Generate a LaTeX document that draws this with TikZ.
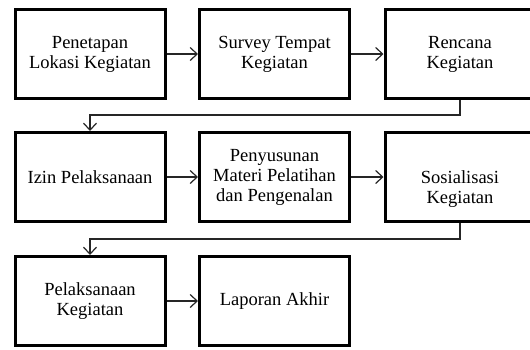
\documentclass[tikz,border=0pt]{standalone}
\usepackage{fontspec}
\setmainfont{Liberation Serif}
\usetikzlibrary{arrows.meta}
\begin{document}
\begin{tikzpicture}[x=1pt,y=-1pt,
  box/.style={draw=black, line width=3pt, minimum width=150pt, minimum height=89pt,
    inner sep=0pt, align=center, font=\fontsize{18.5}{20}\selectfont},
  txt/.style={inner sep=0pt, align=center, font=\fontsize{18.5}{20}\selectfont},
  arr/.style={-{Straight Barb[length=7pt,width=13pt,line width=1.2pt]}, line width=1.2pt, draw=black!85}]
\useasboundingbox (0,0) rectangle (530,349);
\node[box] (b1) at (90,54) {Penetapan\\Lokasi Kegiatan};
\node[box] (b2) at (274.5,54) {Survey Tempat\\Kegiatan};
\node[box] (b3) at (460,54) {Rencana\\Kegiatan};
\node[box] (b4) at (90,177) {Izin Pelaksanaan};
\node[box] (b5) at (274.5,177) {Penyusunan\\Materi Pelatihan\\dan Pengenalan};
\node[box] (b6) at (460,177) {};
\node[txt] (b6t) at (460,189) {Sosialisasi\\Kegiatan};
\node[box] (b7) at (90,301) {Pelaksanaan\\Kegiatan};
\node[box] (b8) at (274.5,301) {Laporan Akhir};
\coordinate (k1) at (0,115);
\coordinate (k2) at (0,239);
\draw[arr] (b1) -- (b2);
\draw[arr] (b2) -- (b3);
\draw[arr] (b4) -- (b5);
\draw[arr] (b5) -- (b6);
\draw[arr] (b7) -- (b8);
\draw[arr] (b3.south) -- (b3.south |- k1) -| (b4.north);
\draw[arr] (b6.south) -- (b6.south |- k2) -| (b7.north);
\end{tikzpicture}
\end{document}
